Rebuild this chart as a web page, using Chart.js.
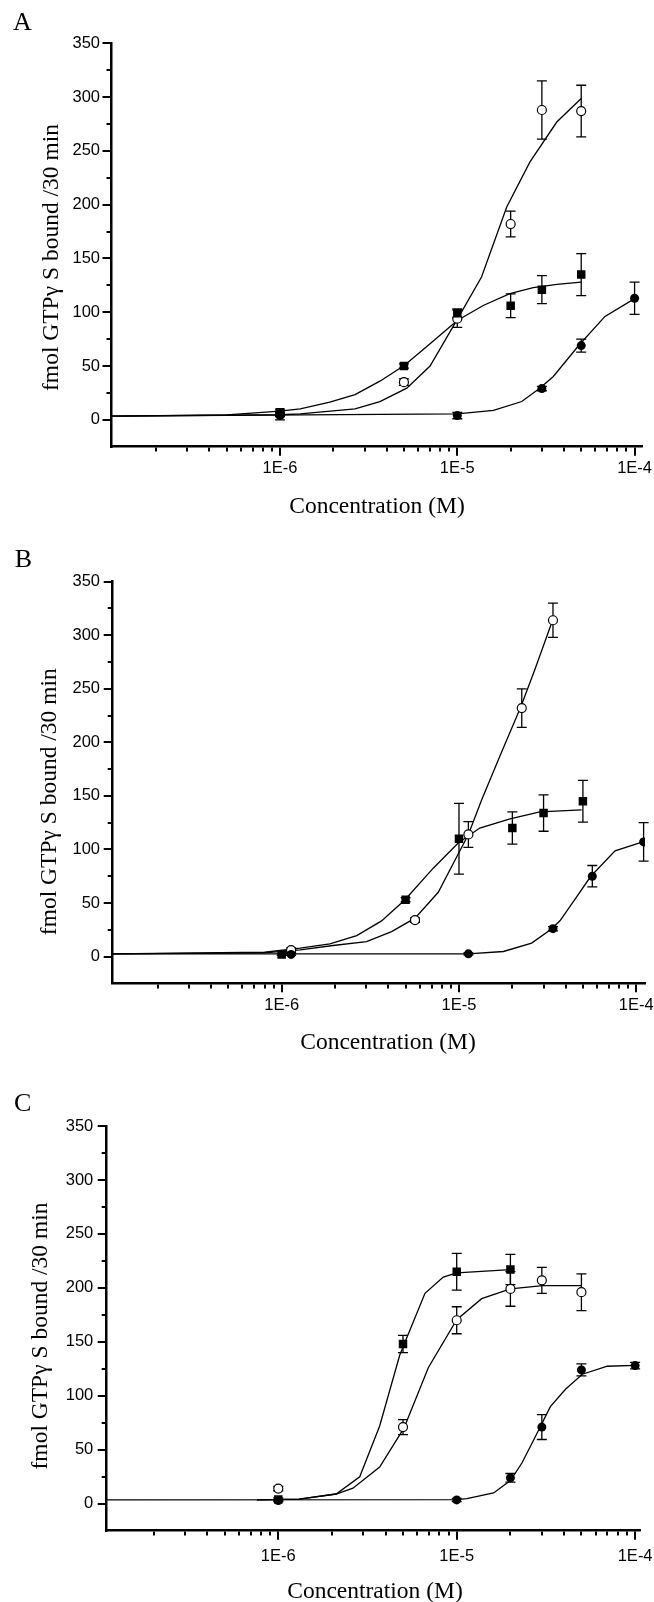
<!DOCTYPE html>
<html>
<head>
<meta charset="utf-8">
<script src="https://cdn.jsdelivr.net/npm/chart.js@4"></script>
<style>
  html, body { margin: 0; padding: 0; background: #fff; }
  body { width: 654px; height: 1602px; position: relative; overflow: hidden; }
  canvas { position: absolute; left: 0; }
</style>
</head>
<body>
<canvas id="chartA" width="654" height="530" style="top:0px"></canvas>
<canvas id="chartB" width="654" height="530" style="top:530px"></canvas>
<canvas id="chartC" width="654" height="542" style="top:1060px"></canvas>
<script>
// x = concentration (M), y = fmol GTPγS bound /30 min
const xTitle = "Concentration (M)";
const yTitle = "fmol GTPγ S bound /30 min";

const majorTicks = [1e-6, 1e-5, 1e-4];
const xTickLabels = ["1E-6", "1E-5", "1E-4"];
const minorTicks = [
  2e-7, 3e-7, 4e-7, 5e-7, 6e-7, 7e-7, 8e-7, 9e-7,
  2e-6, 3e-6, 4e-6, 5e-6, 6e-6, 7e-6, 8e-6, 9e-6,
  2e-5, 3e-5, 4e-5, 5e-5, 6e-5, 7e-5, 8e-5, 9e-5,
];
const yTickValues = [0, 50, 100, 150, 200, 250, 300, 350];

// ---- panel A ----
const aOpenX = [1e-6, 5e-6, 1e-5, 2e-5, 3e-5, 5e-5];
const aOpenY = [5, 35, 94, 182, 288, 287];
const aOpenErr = [2, 3, 8, 12, 27, 24];
const aSquareX = [1e-6, 5e-6, 1e-5, 2e-5, 3e-5, 5e-5];
const aSquareY = [7, 50, 99, 106, 121, 135];
const aSquareErr = [3, 2, 4, 11, 13, 19.5];
const aFilledX = [1e-6, 1e-5, 3e-5, 5e-5, 1e-4];
const aFilledY = [4, 4, 29, 69, 113];
const aFilledErr = [4, 3, 2, 6, 15];
const aOpenFitX = [1.12e-7, 1e-6, 1.3e-6, 2.65e-6, 3.66e-6, 5.19e-6, 7.02e-6, 1e-5, 1.37e-5, 1.9e-5, 2.57e-5, 3.64e-5, 5e-5];
const aOpenFitY = [3.5, 4.7, 5.6, 10.2, 17, 29.4, 50, 93.3, 132.7, 197.8, 239.7, 276.8, 298.6];
const aSquareFitX = [1.12e-7, 5e-7, 1e-6, 1.3e-6, 1.91e-6, 2.65e-6, 3.66e-6, 5.02e-6, 7.02e-6, 1e-5, 1.4e-5, 1.98e-5, 2.68e-5, 3.64e-5, 5e-5];
const aSquareFitY = [3.5, 4.5, 8, 10.2, 16.4, 23.5, 35.9, 50.5, 70.7, 92.4, 106.3, 117.2, 122.8, 125.9, 128];
const aFilledFitX = [1.12e-7, 1e-5, 1.6e-5, 2.31e-5, 2.92e-5, 3.48e-5, 4.88e-5, 6.81e-5, 1e-4];
const aFilledFitY = [3.5, 5.6, 8.7, 17, 29.4, 40.3, 69.8, 96.1, 112.6];

// ---- panel B ----
const bOpenX = [1.13e-6, 5.65e-6, 1.13e-5, 2.26e-5, 3.39e-5];
const bOpenY = [6, 34, 114, 232, 314];
const bOpenErr = [2, 2, 12, 18, 16];
const bSquareX = [1e-6, 5e-6, 1e-5, 2e-5, 3e-5, 5e-5];
const bSquareY = [2, 53, 110, 120, 134, 145];
const bSquareErr = [1, 2, 33, 15, 17, 19.5];
const bFilledX = [1.13e-6, 1.13e-5, 3.39e-5, 5.65e-5, 1.1e-4];
const bFilledY = [2, 2.5, 26, 75, 107];
const bFilledErr = [1, 1, 2, 10, 18];
const bOpenFitX = [1.114e-7, 8e-7, 1.27e-6, 1.95e-6, 3.01e-6, 4.17e-6, 5.65e-6, 7.64e-6, 9.7e-6, 1.13e-5, 1.34e-5, 1.7e-5, 2.23e-5, 2.68e-5, 3.39e-5];
const bOpenFitY = [2.5, 3.5, 6.3, 10.3, 14, 23.3, 35.8, 60, 93, 114, 146, 187, 233, 268, 315];
const bSquareFitX = [1.114e-7, 8e-7, 1.27e-6, 1.87e-6, 2.65e-6, 3.66e-6, 4.96e-6, 7.16e-6, 9.9e-6, 1.31e-5, 1.94e-5, 2.86e-5, 4.92e-5];
const bSquareFitY = [2.5, 4, 7.8, 11.9, 19.6, 33.3, 53, 82.5, 106, 120, 128.5, 135, 137];
const bFilledFitX = [1.114e-7, 1.13e-5, 1.78e-5, 2.57e-5, 3.34e-5, 3.72e-5, 4.62e-5, 5.53e-5, 7.59e-5, 1.1e-4];
const bFilledFitY = [2.5, 2.5, 4.7, 12.5, 26, 33.6, 56, 74.7, 98.7, 107.3];

// ---- panel C ----
const cOpenX = [1e-6, 5e-6, 1e-5, 2e-5, 3e-5, 5e-5];
const cOpenY = [14, 71, 170, 199, 207, 196];
const cOpenErr = [2, 7, 12.5, 16, 12, 17];
const cSquareX = [1e-6, 5e-6, 1e-5, 2e-5];
const cSquareY = [4, 148, 215, 217];
const cSquareErr = [1.5, 8, 17, 14];
const cFilledX = [1e-6, 1e-5, 2e-5, 3e-5, 5e-5, 1e-4];
const cFilledY = [3, 3.5, 24, 71, 124, 128];
const cFilledErr = [1, 1.5, 4, 11.5, 5.5, 3];
const cOpenFitX = [7.6e-7, 1.31e-6, 2.11e-6, 2.62e-6, 3.7e-6, 5.06e-6, 6.93e-6, 1e-5, 1.38e-5, 2e-5, 3.03e-5, 5e-5];
const cOpenFitY = [3.5, 4.3, 9, 14.4, 34, 70, 126, 170.5, 190, 199, 202, 202];
const cSquareFitX = [7.6e-7, 1.31e-6, 2.11e-6, 2.86e-6, 3.7e-6, 4.8e-6, 6.64e-6, 8.41e-6, 1e-5, 2e-5];
const cSquareFitY = [3.5, 4.3, 9, 25, 72, 138, 195, 210, 214, 217];
const cFilledFitX = [1.092e-7, 1e-5, 1.14e-5, 1.61e-5, 2e-5, 2.32e-5, 2.7e-5, 3.35e-5, 4.07e-5, 5.06e-5, 6.99e-5, 1e-4];
const cFilledFitY = [3.5, 3.8, 4.7, 10, 21.5, 37.7, 59, 90, 106, 120, 127.4, 128.1];

Chart.defaults.font.family = "'Liberation Sans', Arial, sans-serif";
Chart.defaults.color = "#000";

function toXY(xs, ys) {
  return xs.map((x, i) => ({ x: x, y: ys[i] }));
}

const markerStyles = {
  open: { pointStyle: "circle", pointRadius: 4.5, pointBackgroundColor: "#fff", pointBorderColor: "#000", pointBorderWidth: 1.2 },
  filled: { pointStyle: "circle", pointRadius: 4.5, pointBackgroundColor: "#000", pointBorderColor: "#000", pointBorderWidth: 0 },
  square: { pointStyle: "rect", pointRadius: 6, pointBackgroundColor: "#000", pointBorderColor: "#000", pointBorderWidth: 0 },
};

function pointSet(xs, ys, errs, kind) {
  return Object.assign({ data: toXY(xs, ys), errors: errs, showLine: false }, markerStyles[kind]);
}

function fitSet(xs, ys) {
  return { data: toXY(xs, ys), showLine: true, pointRadius: 0, borderColor: "#000", borderWidth: 1.3, tension: 0, fill: false };
}

// error bars drawn under the markers, through the chart's own scales
const errorBars = {
  id: "errorBars",
  beforeDatasetsDraw(chart) {
    const { ctx, scales } = chart;
    ctx.save();
    ctx.strokeStyle = "#000";
    ctx.lineWidth = 1.3;
    chart.data.datasets.forEach((ds) => {
      if (!ds.errors) return;
      ds.data.forEach((p, i) => {
        const e = ds.errors[i];
        const px = scales.x.getPixelForValue(p.x);
        const top = scales.y.getPixelForValue(p.y + e);
        const bot = scales.y.getPixelForValue(p.y - e);
        ctx.beginPath();
        ctx.moveTo(px, top);
        ctx.lineTo(px, bot);
        ctx.moveTo(px - 5, top);
        ctx.lineTo(px + 5, top);
        ctx.moveTo(px - 5, bot);
        ctx.lineTo(px + 5, bot);
        ctx.stroke();
      });
    });
    ctx.restore();
  },
};

// panel letter and axis titles
const panelText = {
  id: "panelText",
  afterDraw(chart, args, opts) {
    const ctx = chart.ctx;
    ctx.save();
    ctx.fillStyle = "#000";
    ctx.textAlign = "center";
    ctx.textBaseline = "middle";
    ctx.font = "26px 'Liberation Serif'";
    ctx.fillText(opts.letter, opts.letterPos[0], opts.letterPos[1]);
    ctx.font = "23.5px 'Liberation Serif'";
    ctx.fillText(xTitle, opts.xTitlePos[0], opts.xTitlePos[1]);
    ctx.translate(opts.yTitlePos[0], opts.yTitlePos[1]);
    ctx.rotate(-Math.PI / 2);
    ctx.fillText(yTitle, 0, 0);
    ctx.restore();
  },
};

function makePanel(id, p) {
  const xTicks = minorTicks.concat(majorTicks).sort((a, b) => a - b);
  new Chart(document.getElementById(id), {
    type: "scatter",
    data: {
      datasets: [
        pointSet(p.squareX, p.squareY, p.squareErr, "square"),
        pointSet(p.filledX, p.filledY, p.filledErr, "filled"),
        pointSet(p.openX, p.openY, p.openErr, "open"),
        fitSet(p.openFitX, p.openFitY),
        fitSet(p.squareFitX, p.squareFitY),
        fitSet(p.filledFitX, p.filledFitY),
      ],
    },
    options: {
      responsive: false,
      animation: false,
      events: [],
      layout: { padding: { top: p.area.top, right: 654 - p.area.right, bottom: 0, left: 0 } },
      plugins: {
        legend: { display: false },
        tooltip: { enabled: false },
        panelText: { letter: p.letter, letterPos: p.letterPos, xTitlePos: p.xTitlePos, yTitlePos: p.yTitlePos },
      },
      scales: {
        x: {
          type: "logarithmic",
          position: "bottom",
          min: p.xMin,
          max: p.xMax,
          bounds: "data",
          afterBuildTicks: (s) => {
            s.ticks = xTicks.map((v) => ({ value: v, major: majorTicks.includes(v) }));
          },
          afterFit: (s) => {
            s.height = p.canvasH - p.area.bottom;
            s.paddingLeft = 0;
            s.paddingRight = 0;
          },
          ticks: {
            autoSkip: false,
            maxRotation: 0,
            padding: p.xPad,
            font: { size: 16.5 },
            callback: (v) => {
              const i = majorTicks.indexOf(v);
              return i < 0 ? "" : xTickLabels[i];
            },
          },
          grid: {
            drawOnChartArea: false,
            tickLength: 9,
            lineWidth: 2,
            tickWidth: 2,
            color: "#000",
            tickColor: "#000",
            tickBorderDash: (c) => (c.tick && c.tick.major ? [] : [4, 100]),
          },
          border: { display: true, width: 2.5, color: "#000" },
        },
        y: {
          type: "linear",
          position: "left",
          min: -25,
          max: 350,
          afterFit: (s) => {
            s.width = p.area.left;
            s.paddingTop = 0;
            s.paddingBottom = 0;
          },
          ticks: {
            stepSize: 25,
            padding: p.yPad,
            font: { size: 16.5 },
            callback: (v) => (yTickValues.includes(v) ? String(v) : ""),
          },
          grid: {
            drawOnChartArea: false,
            tickLength: 9,
            lineWidth: 2,
            tickWidth: 2,
            color: "#000",
            tickColor: (c) => (c.tick && c.tick.value === -25 ? "rgba(0,0,0,0)" : "#000"),
            tickBorderDash: (c) => (c.tick && c.tick.value % 50 === 0 ? [] : [0, 4, 3.75, 100]),
          },
          border: { display: true, width: 2.5, color: "#000" },
        },
      },
    },
    plugins: [errorBars, panelText],
  });
}

makePanel("chartA", {
  canvasH: 530,
  area: { left: 111.5, top: 43.3, right: 641.5, bottom: 446.7 },
  xMin: 1.121e-7, xMax: 1.094e-4, xPad: 2.7, yPad: 2.5,
  letter: "A", letterPos: [22.5, 23.5], xTitlePos: [377, 506.7], yTitlePos: [51.7, 257.5],
  openX: aOpenX, openY: aOpenY, openErr: aOpenErr,
  squareX: aSquareX, squareY: aSquareY, squareErr: aSquareErr,
  filledX: aFilledX, filledY: aFilledY, filledErr: aFilledErr,
  openFitX: aOpenFitX, openFitY: aOpenFitY,
  squareFitX: aSquareFitX, squareFitY: aSquareFitY,
  filledFitX: aFilledFitX, filledFitY: aFilledFitY,
});

makePanel("chartB", {
  canvasH: 530,
  area: { left: 112.7, top: 51.7, right: 645, bottom: 453.3 },
  xMin: 1.114e-7, xMax: 1.12e-4, xPad: 2.8, yPad: 3.7,
  letter: "B", letterPos: [23.3, 30], xTitlePos: [388, 513.3], yTitlePos: [49.7, 271.7],
  openX: bOpenX, openY: bOpenY, openErr: bOpenErr,
  squareX: bSquareX, squareY: bSquareY, squareErr: bSquareErr,
  filledX: bFilledX, filledY: bFilledY, filledErr: bFilledErr,
  openFitX: bOpenFitX, openFitY: bOpenFitY,
  squareFitX: bSquareFitX, squareFitY: bSquareFitY,
  filledFitX: bFilledFitX, filledFitY: bFilledFitY,
});

makePanel("chartC", {
  canvasH: 542,
  area: { left: 106.7, top: 66, right: 640, bottom: 470.7 },
  xMin: 1.092e-7, xMax: 1.065e-4, xPad: 7.1, yPad: 4.4,
  letter: "C", letterPos: [22.7, 44], xTitlePos: [375, 531.7], yTitlePos: [40.8, 276],
  openX: cOpenX, openY: cOpenY, openErr: cOpenErr,
  squareX: cSquareX, squareY: cSquareY, squareErr: cSquareErr,
  filledX: cFilledX, filledY: cFilledY, filledErr: cFilledErr,
  openFitX: cOpenFitX, openFitY: cOpenFitY,
  squareFitX: cSquareFitX, squareFitY: cSquareFitY,
  filledFitX: cFilledFitX, filledFitY: cFilledFitY,
});
</script>
</body>
</html>
